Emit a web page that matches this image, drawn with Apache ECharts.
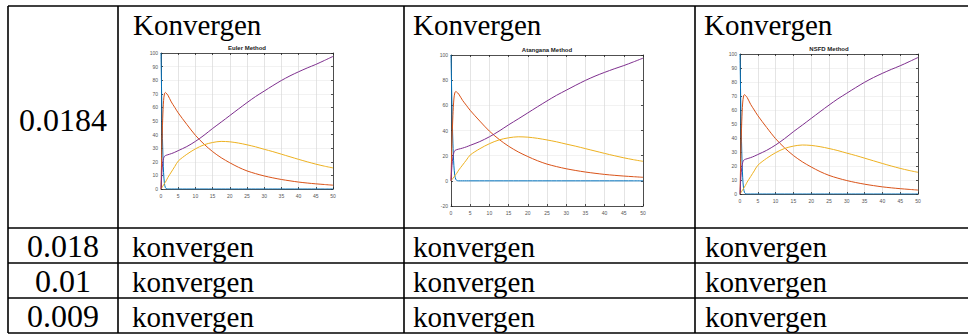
<!DOCTYPE html>
<html><head><meta charset="utf-8">
<script src="https://cdn.jsdelivr.net/npm/echarts@6/dist/echarts.min.js"></script>
<style>html,body{margin:0;padding:0;background:#fff}#c{width:968px;height:334px}</style>
</head><body><div id="c"></div>
<script>
// ---- data ----
const timeValues = [0, 0.25, 0.5, 0.75, 1, 1.25, 1.5, 2, 3, 4, 5, 7.5, 10, 12.5, 15, 17.5, 20, 22.5, 25, 27.5, 30, 32.5, 35, 37.5, 40, 42.5, 45, 47.5, 50];
const blueValues   = [100, 60, 30, 12, 4, 1.2, 0.3, 0, 0, 0, 0, 0, 0, 0, 0, 0, 0, 0, 0, 0, 0, 0, 0, 0, 0, 0, 0, 0, 0];
const redValues    = [0, 30, 52, 65, 70, 71, 70.5, 69, 64, 60, 56, 47.5, 39.5, 33, 27.5, 23, 19.3, 16, 13.3, 11.3, 9.6, 8.2, 7, 6, 5.1, 4.4, 3.8, 3.3, 2.8];
const yellowValues = [0, 1, 2, 3, 4, 5, 6, 8.5, 12.5, 16.5, 20.5, 25.5, 29.5, 32.5, 34.2, 35, 34.7, 33.8, 32.5, 31, 29.2, 27.5, 25.6, 23.7, 21.8, 20, 18.3, 16.8, 15.5];
const purpleValues = [0, 12, 19, 22.5, 24, 24.5, 24.8, 25.2, 26, 27, 28.2, 31.2, 35, 39.5, 44.5, 49.2, 54, 58.8, 63.5, 68, 72, 76, 79.8, 83.2, 86.2, 89, 91.6, 94.5, 97.5];
const methodTitles = ['Euler Method', 'Atangana Method', 'NSFD Method'];
const rowLabels = ['0.0184', '0.018', '0.01', '0.009'];
const headerWord = 'Konvergen';
const cellWord = 'konvergen';
const yRanges = [[0, 100, 10], [-20, 100, 20], [0, 100, 10]];
const xRange = [0, 50, 5];

// ---- layout ----
const grids = [
  {left: 161, top: 53, width: 172, height: 136},
  {left: 451, top: 55, width: 192, height: 151},
  {left: 740, top: 54, width: 178, height: 140}
];
const colors = ['#0072BD', '#D95319', '#EDB120', '#7E2F8E'];
const seriesData = [blueValues, redValues, yellowValues, purpleValues];
const pair = arr => timeValues.map((tv, i) => [tv, arr[i]]);

const xAxes = [], yAxes = [], series = [], titles = [];
grids.forEach((g, i) => {
  const axisCommon = {
    axisLine: {show: true, onZero: false, lineStyle: {color: '#262626', width: 0.8}},
    axisTick: {show: true, inside: true, length: 2, lineStyle: {color: '#262626', width: 0.8}},
  };
  xAxes.push(Object.assign({
    type: 'value', gridIndex: i, min: xRange[0], max: xRange[1], interval: xRange[2], position: 'bottom',
    axisLabel: {fontSize: 5, color: '#555', margin: 4, fontFamily: 'Liberation Sans'},
    splitLine: {show: true, lineStyle: {color: '#d9d9d9', width: 0.7}}
  }, axisCommon));
  xAxes.push(Object.assign({
    type: 'value', gridIndex: i, min: xRange[0], max: xRange[1], interval: xRange[2], position: 'top',
    axisLabel: {show: false}, splitLine: {show: false}
  }, axisCommon));
  const yr = yRanges[i];
  yAxes.push(Object.assign({
    type: 'value', gridIndex: i, min: yr[0], max: yr[1], interval: yr[2], position: 'left',
    axisLabel: {fontSize: 5, color: '#555', margin: 3, fontFamily: 'Liberation Sans'},
    splitLine: {show: true, lineStyle: {color: '#ececec', width: 0.7}}
  }, axisCommon));
  yAxes.push(Object.assign({
    type: 'value', gridIndex: i, min: yr[0], max: yr[1], interval: yr[2], position: 'right',
    axisLabel: {show: false}, splitLine: {show: false}
  }, axisCommon));
  seriesData.forEach((arr, k) => {
    series.push({
      type: 'line', xAxisIndex: i * 2, yAxisIndex: i * 2, data: pair(arr),
      showSymbol: false, smooth: 0.3, animation: false,
      lineStyle: {color: colors[k], width: 1}, z: 3 + k
    });
  });
  titles.push({
    text: methodTitles[i], left: g.left + g.width / 2, top: g.top - 8, textAlign: 'center', padding: 0,
    textStyle: {fontSize: 6, fontWeight: 'bold', color: '#222', fontFamily: 'Liberation Sans'}
  });
});

// ---- table graphics ----
const lineStyle = {stroke: '#000', lineWidth: 1.6};
const vx = [8, 118, 404, 695];
const hy = [6, 228, 263, 298, 333];
const graphic = [];
vx.forEach(x => graphic.push({type: 'line', shape: {x1: x, y1: 6, x2: x, y2: 333}, style: lineStyle}));
hy.forEach(y => graphic.push({type: 'line', shape: {x1: 8, y1: y, x2: 970, y2: y}, style: lineStyle}));
// y given as baseline; converted to the middle of the em box
const txt = (text, x, baseline, align, size) => ({type: 'text', x: x, y: baseline - 0.338 * size,
  style: {text: text, fontFamily: '"Liberation Serif", "Times New Roman", serif', fontSize: size,
          fill: '#000', align: align, verticalAlign: 'middle'}});
graphic.push(txt(rowLabels[0], 63, 131, 'center', 32));
[133, 413, 704].forEach(x => graphic.push(txt(headerWord, x, 35, 'left', 29)));
[257, 292, 327].forEach((by, r) => {
  graphic.push(txt(rowLabels[r + 1], 63, by, 'center', 32));
  [132, 413, 705].forEach(x => graphic.push(txt(cellWord, x, by, 'left', 29)));
});

const chart = echarts.init(document.getElementById('c'), null, {renderer: 'svg'});
chart.setOption({
  animation: false,
  backgroundColor: '#fff',
  title: titles,
  grid: grids,
  xAxis: xAxes,
  yAxis: yAxes,
  series: series,
  graphic: graphic
});
</script></body></html>
